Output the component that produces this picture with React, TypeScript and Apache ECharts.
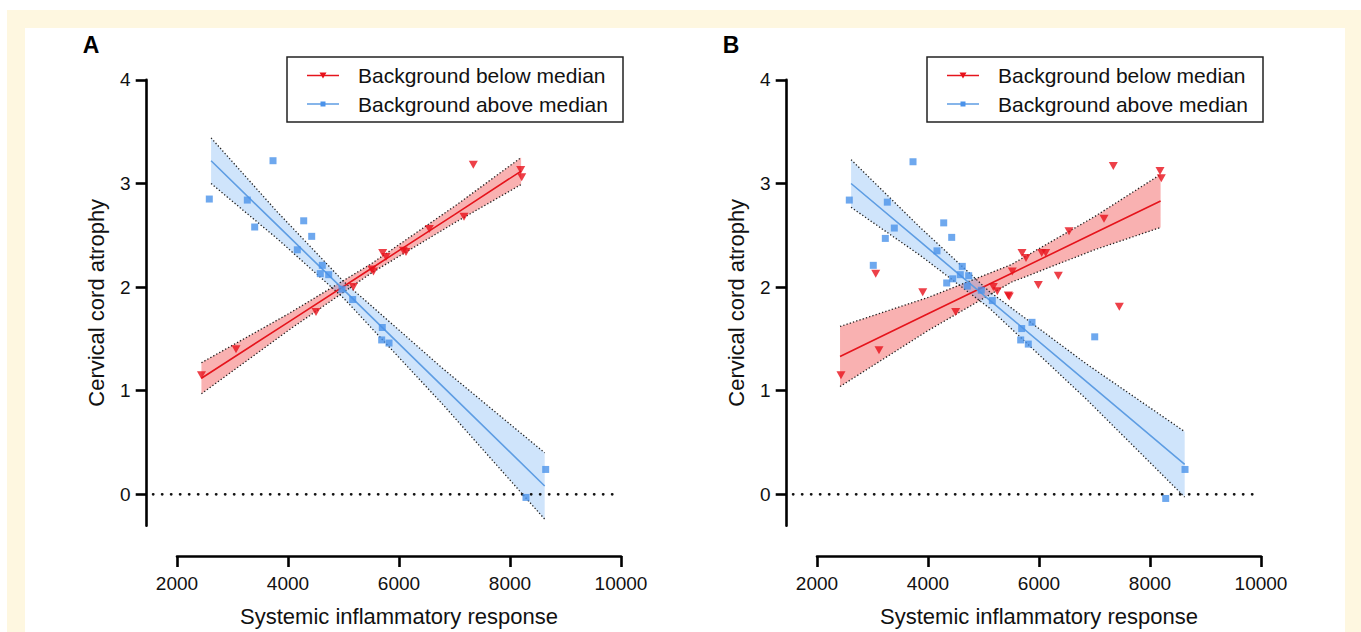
import React, { useEffect, useRef } from "react";
import * as echarts from "echarts";

// ---------- text ----------
const PANEL_LABELS = ["A", "B"];
const LEGEND_LABELS = ["Background below median", "Background above median"];
const X_TITLE = "Systemic inflammatory response";
const Y_TITLE = "Cervical cord atrophy";
const X_TICKS = [2000, 4000, 6000, 8000, 10000];
const Y_TICKS = [0, 1, 2, 3, 4];
const Y_MIN = -0.303;
const ZERO_LINE_X = [1570, 9980];

// ---------- panel A data ----------
const A_RED_PTS = [
  [2441, 1.15], [3063, 1.4], [4505, 1.76], [5177, 2.0], [5510, 2.17], [5540, 2.15],
  [5706, 2.33], [5766, 2.29], [6078, 2.35], [6126, 2.34], [6546, 2.56], [7171, 2.68],
  [7339, 3.18], [8193, 3.13], [8211, 3.06],
];
const A_BLUE_PTS = [
  [2582, 2.85], [3730, 3.22], [3267, 2.84], [3400, 2.58], [4283, 2.64], [4427, 2.49],
  [4168, 2.36], [4618, 2.21], [4582, 2.13], [4733, 2.12], [4973, 1.98], [5166, 1.88],
  [5699, 1.61], [5688, 1.49], [5820, 1.46], [8643, 0.24], [8288, -0.03],
];
const A_RED_FIT_X = [2440, 4000, 5500, 7000, 8200];
const A_RED_FIT_Y = [1.12, 1.66, 2.18, 2.7, 3.12];
const A_RED_UPPER = [1.27, 1.74, 2.225, 2.78, 3.25];
const A_RED_LOWER = [0.97, 1.58, 2.135, 2.62, 2.99];
const A_BLUE_FIT_X = [2614, 3800, 5000, 6800, 8625];
const A_BLUE_FIT_Y = [3.22, 2.6, 1.975, 1.035, 0.08];
const A_BLUE_UPPER = [3.44, 2.73, 2.055, 1.209, 0.4];
const A_BLUE_LOWER = [3.0, 2.47, 1.895, 0.861, -0.24];

// ---------- panel B data ----------
const B_RED_PTS = [
  [2432, 1.15], [3117, 1.39], [3058, 2.13], [3905, 1.95], [4499, 1.76], [5177, 2.0],
  [5249, 1.96], [5447, 1.92], [5465, 1.91], [5519, 2.15], [5694, 2.33], [5766, 2.28],
  [5988, 2.02], [6348, 2.11], [7447, 1.81], [6049, 2.33], [6121, 2.33], [6541, 2.54],
  [7171, 2.66], [7339, 3.17], [8180, 3.12], [8204, 3.05],
];
const B_BLUE_PTS = [
  [2582, 2.84], [3730, 3.21], [3267, 2.82], [3393, 2.57], [3231, 2.47], [3014, 2.21],
  [4283, 2.62], [4427, 2.48], [4162, 2.35], [4618, 2.2], [4582, 2.12], [4733, 2.11],
  [4337, 2.04], [4445, 2.08], [4708, 2.01], [4960, 1.97], [5159, 1.87], [5874, 1.66],
  [5688, 1.6], [5670, 1.49], [5807, 1.45], [7004, 1.52], [8631, 0.24], [8283, -0.04],
];
const B_RED_FIT_X = [2415, 4000, 5500, 7000, 8191];
const B_RED_FIT_Y = [1.33, 1.742, 2.132, 2.522, 2.832];
const B_RED_UPPER = [1.62, 1.9, 2.217, 2.68, 3.088];
const B_RED_LOWER = [1.04, 1.58, 2.047, 2.36, 2.576];
const B_BLUE_FIT_X = [2614, 3850, 5100, 6850, 8625];
const B_BLUE_FIT_Y = [3.0, 2.443, 1.879, 1.09, 0.289];
const B_BLUE_UPPER = [3.23, 2.58, 1.96, 1.26, 0.605];
const B_BLUE_LOWER = [2.77, 2.31, 1.8, 0.92, -0.027];

// ---------- styles ----------
const FONT = "'Liberation Sans', Arial, Helvetica, sans-serif";
const RED = "#e8101a";
const BLUE = "#4a92ea";
const RED_LINE = "#e5141c";
const BLUE_LINE = "#5e9de3";
const RED_BAND = "rgba(240,60,60,0.4)";
const BLUE_BAND = "rgba(70,150,240,0.26)";
const GRID_LEFT = [177, 817];
const GRID_TOP = 79.9;
const GRID_W = 444;
const GRID_H = 445.8;

type Fit = { x: number[]; y: number[]; up: number[]; lo: number[] };

function zip(xs: number[], ys: number[]) {
  return xs.map((x, i) => [x, ys[i]]);
}

function bandSeries(p: number, fit: Fit, fill: string) {
  return {
    type: "custom",
    coordinateSystem: "cartesian2d",
    xAxisIndex: p,
    yAxisIndex: p,
    silent: true,
    z: 1,
    data: [[fit.x[0], fit.up[0]]],
    renderItem: (_params: any, api: any) => {
      const pts: number[][] = [];
      fit.x.forEach((x, i) => pts.push(api.coord([x, fit.up[i]])));
      for (let i = fit.x.length - 1; i >= 0; i--) pts.push(api.coord([fit.x[i], fit.lo[i]]));
      return { type: "polygon", shape: { points: pts }, style: { fill, stroke: "none" } };
    },
  };
}

function zeroLineSeries(p: number) {
  return {
    type: "custom",
    coordinateSystem: "cartesian2d",
    xAxisIndex: p,
    yAxisIndex: p,
    silent: true,
    clip: false,
    z: 2,
    data: [[ZERO_LINE_X[0], 0, ZERO_LINE_X[1], 0]],
    renderItem: (_params: any, api: any) => {
      const a = api.coord([api.value(0), api.value(1)]);
      const b = api.coord([api.value(2), api.value(3)]);
      return {
        type: "line",
        shape: { x1: a[0], y1: a[1], x2: b[0], y2: b[1] },
        style: { stroke: "#111", lineWidth: 2.8, lineDash: [0.1, 8.9], lineCap: "round" },
      };
    },
  };
}

function edgeSeries(p: number, xs: number[], ys: number[]) {
  return {
    type: "line",
    xAxisIndex: p,
    yAxisIndex: p,
    data: zip(xs, ys),
    showSymbol: false,
    symbol: "none",
    silent: true,
    z: 3,
    lineStyle: { color: "#222", width: 1.3, type: [1.3, 2.1] },
  };
}

function panelSeries(p: number, redPts: number[][], bluePts: number[][], red: Fit, blue: Fit) {
  return [
    bandSeries(p, red, RED_BAND),
    bandSeries(p, blue, BLUE_BAND),
    edgeSeries(p, red.x, red.up),
    edgeSeries(p, red.x, red.lo),
    edgeSeries(p, blue.x, blue.up),
    edgeSeries(p, blue.x, blue.lo),
    zeroLineSeries(p),
    {
      type: "line",
      xAxisIndex: p,
      yAxisIndex: p,
      data: zip(red.x, red.y),
      showSymbol: false,
      symbol: "none",
      z: 4,
      lineStyle: { color: RED_LINE, width: 1.6 },
    },
    {
      type: "line",
      xAxisIndex: p,
      yAxisIndex: p,
      data: zip(blue.x, blue.y),
      showSymbol: false,
      symbol: "none",
      z: 4,
      lineStyle: { color: BLUE_LINE, width: 1.6 },
    },
    {
      type: "scatter",
      xAxisIndex: p,
      yAxisIndex: p,
      data: redPts,
      symbol: "triangle",
      symbolRotate: 180,
      symbolSize: [9, 8],
      z: 5,
      itemStyle: { color: RED },
    },
    {
      type: "scatter",
      xAxisIndex: p,
      yAxisIndex: p,
      data: bluePts,
      symbol: "rect",
      symbolSize: 7,
      z: 6,
      itemStyle: { color: BLUE },
    },
  ];
}

function legendGraphics(p: number) {
  const dx = 640 * p;
  const rows = [75.5, 104];
  const els: any[] = [
    {
      type: "rect",
      z: 100,
      shape: { x: 287 + dx, y: 57, width: 336, height: 65 },
      style: { fill: "#fff", stroke: "#222", lineWidth: 1.5 },
    },
  ];
  rows.forEach((ry, i) => {
    const color = i === 0 ? RED_LINE : BLUE_LINE;
    els.push({
      type: "line",
      z: 101,
      shape: { x1: 307 + dx, y1: ry, x2: 339 + dx, y2: ry },
      style: { stroke: color, lineWidth: 1.5 },
    });
    if (i === 0) {
      els.push({
        type: "polygon",
        z: 102,
        shape: { points: [[319.5 + dx, ry - 3], [326.5 + dx, ry - 3], [323 + dx, ry + 3]] },
        style: { fill: RED },
      });
    } else {
      els.push({
        type: "rect",
        z: 102,
        shape: { x: 320.5 + dx, y: ry - 2.5, width: 5, height: 5 },
        style: { fill: BLUE },
      });
    }
    els.push({
      type: "text",
      z: 102,
      x: 358 + dx,
      y: ry,
      style: {
        text: LEGEND_LABELS[i],
        fontSize: 21,
        fontFamily: FONT,
        fill: "#111",
        verticalAlign: "middle",
        align: "left",
      },
    });
  });
  els.push({
    type: "text",
    z: 102,
    x: 91 + dx,
    y: 45,
    style: {
      text: PANEL_LABELS[p],
      fontSize: 23,
      fontWeight: "bold",
      fontFamily: FONT,
      fill: "#000",
      align: "center",
      verticalAlign: "middle",
    },
  });
  return els;
}

function xAxis(p: number) {
  return {
    type: "value",
    gridIndex: p,
    min: X_TICKS[0],
    max: X_TICKS[X_TICKS.length - 1],
    interval: X_TICKS[1] - X_TICKS[0],
    position: "bottom",
    offset: 30.3,
    splitLine: { show: false },
    axisLine: { onZero: false, lineStyle: { color: "#000", width: 2.6 } },
    axisTick: { length: 11, lineStyle: { color: "#000", width: 2.6 } },
    axisLabel: {
      fontSize: 19,
      color: "#111",
      fontFamily: FONT,
      margin: 18,
      formatter: (v: number) => String(v),
    },
    name: X_TITLE,
    nameLocation: "middle",
    nameGap: 49,
    nameTextStyle: { fontSize: 22, color: "#111", fontFamily: FONT },
  };
}

function yAxis(p: number) {
  return {
    type: "value",
    gridIndex: p,
    min: Y_MIN,
    max: Y_TICKS[Y_TICKS.length - 1],
    position: "left",
    offset: 30.3,
    splitLine: { show: false },
    axisLine: { onZero: false, lineStyle: { color: "#000", width: 2.6 } },
    axisTick: { length: 11, customValues: Y_TICKS, lineStyle: { color: "#000", width: 2.6 } },
    axisLabel: {
      fontSize: 19,
      color: "#111",
      fontFamily: FONT,
      margin: 16,
      customValues: Y_TICKS,
      formatter: (v: number) => String(v),
    },
    name: Y_TITLE,
    nameLocation: "middle",
    nameRotate: 90,
    nameGap: 39,
    nameTextStyle: { fontSize: 22, color: "#111", fontFamily: FONT },
  };
}

export default function App() {
  const ref = useRef<HTMLDivElement>(null);
  useEffect(() => {
    if (!ref.current) return;
    const chart = echarts.init(ref.current, undefined, { renderer: "svg" });
    const fits: Fit[][] = [
      [
        { x: A_RED_FIT_X, y: A_RED_FIT_Y, up: A_RED_UPPER, lo: A_RED_LOWER },
        { x: A_BLUE_FIT_X, y: A_BLUE_FIT_Y, up: A_BLUE_UPPER, lo: A_BLUE_LOWER },
      ],
      [
        { x: B_RED_FIT_X, y: B_RED_FIT_Y, up: B_RED_UPPER, lo: B_RED_LOWER },
        { x: B_BLUE_FIT_X, y: B_BLUE_FIT_Y, up: B_BLUE_UPPER, lo: B_BLUE_LOWER },
      ],
    ];
    const option: any = {
      animation: false,
      backgroundColor: "#fff",
      textStyle: { fontFamily: FONT },
      grid: GRID_LEFT.map((l) => ({ left: l, top: GRID_TOP, width: GRID_W, height: GRID_H })),
      xAxis: [xAxis(0), xAxis(1)],
      yAxis: [yAxis(0), yAxis(1)],
      graphic: {
        elements: [
          { type: "rect", z: -100, silent: true, shape: { x: 7, y: 10, width: 1354, height: 622 }, style: { fill: "#fef7e0" } },
          { type: "rect", z: -99, silent: true, shape: { x: 25, y: 28, width: 1320, height: 604 }, style: { fill: "#fff" } },
          ...legendGraphics(0),
          ...legendGraphics(1),
        ],
      },
      series: [
        ...panelSeries(0, A_RED_PTS, A_BLUE_PTS, fits[0][0], fits[0][1]),
        ...panelSeries(1, B_RED_PTS, B_BLUE_PTS, fits[1][0], fits[1][1]),
      ],
    };
    chart.setOption(option);
    return () => chart.dispose();
  }, []);
  return (
    <div
      ref={ref}
      style={{ position: "fixed", left: 0, top: 0, width: 1361, height: 632 }}
    />
  );
}
